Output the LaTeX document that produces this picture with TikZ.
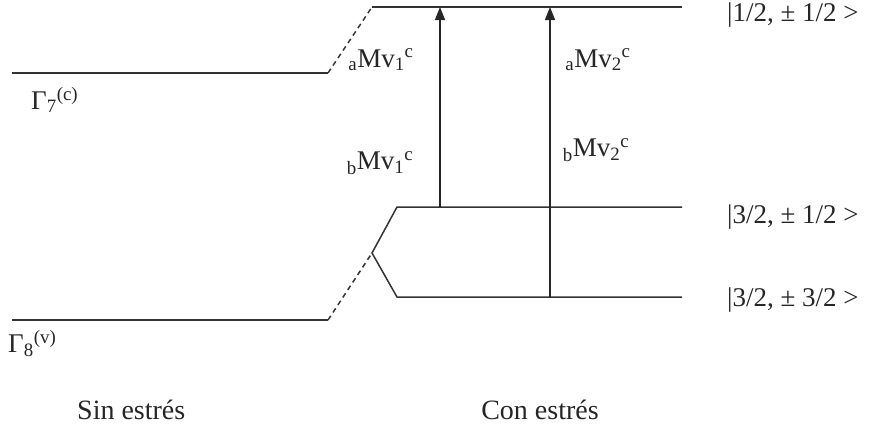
\documentclass[tikz,border=0pt]{standalone}
\usepackage{fontspec}
\setmainfont{Liberation Serif}
\usetikzlibrary{arrows.meta,positioning}
\tikzset{
  lvl/.style={line width=1.5pt,draw=black!80},
  dlvl/.style={lvl,dash pattern=on 5pt off 4pt},
  trans/.style={-{Triangle[length=13pt,width=10pt]},line width=1.5pt,draw=black!85},
  lab/.style={font=\fontsize{27}{31}\selectfont,inner sep=0pt,text=black!85},
  slab/.style={lab,font=\fontsize{28}{32}\selectfont},
}

\begin{document}
\begin{tikzpicture}[x=1pt,y=-1pt]
\useasboundingbox (0,0) rectangle (876,432);
% level end points
\coordinate (g7L) at (12,73);   \coordinate (g7R) at (328,73);
\coordinate (g8L) at (12,320);  \coordinate (g8R) at (328,320);
\coordinate (cbL) at (372,7);   \coordinate (cbR) at (682,7);
\coordinate (hhL) at (397,207); \coordinate (hhR) at (682,207);
\coordinate (lhL) at (397,297); \coordinate (lhR) at (682,297);
\coordinate (tip) at (372,253);
% unstrained levels
\draw[lvl] (g7L) -- (g7R);
\draw[lvl] (g8L) -- (g8R);
% strained levels
\draw[lvl] (cbL) -- (cbR);
\draw[lvl] (hhR) -- (hhL) -- (tip) -- (lhL) -- (lhR);
\draw[dlvl] (g7R) -- (cbL);
\draw[dlvl] (g8R) -- (tip);
% transitions
\coordinate (t1) at (440,207); \coordinate (t1e) at (440,7);
\coordinate (t2) at (550,297); \coordinate (t2e) at (550,7);
\draw[trans] (t1) -- (t1e);
\draw[trans] (t2) -- (t2e);
% labels
\node[lab] (ma1) at (381,60) {\textsubscript{a}Mv\textsubscript{1}\textsuperscript{c}};
\node[lab] (mb1) at (380,163) {\textsubscript{b}Mv\textsubscript{1}\textsuperscript{c}};
\node[lab] (ma2) at (598,60) {\textsubscript{a}Mv\textsubscript{2}\textsuperscript{c}};
\node[lab] (mb2) at (596,150) {\textsubscript{b}Mv\textsubscript{2}\textsuperscript{c}};
\node[lab,anchor=west] (g7) at (31,100) {Γ\textsubscript{7}\textsuperscript{(c)}};
\node[lab,anchor=west] (g8) at (8,344) {Γ\textsubscript{8}\textsuperscript{(v)}};
\node[lab,anchor=west] (s1) at (727,15) {|1/2, ± 1/2 >};
\node[lab,anchor=west] (s2) at (727,217) {|3/2, ± 1/2 >};
\node[lab,anchor=west] (s3) at (727,300) {|3/2, ± 3/2 >};
\node[slab,anchor=west] (sin) at (77,410) {Sin estrés};
\node[slab] (con) at (540,410) {Con estrés};
\end{tikzpicture}
\end{document}
